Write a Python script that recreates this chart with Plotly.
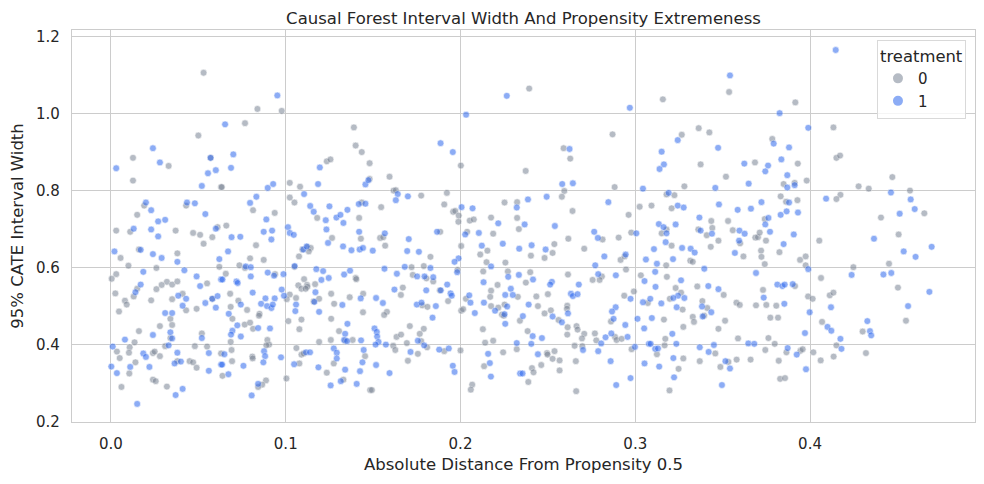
import plotly.graph_objects as go

# (absolute distance from propensity 0.5, 95% CATE interval width)
control_points = [
(0.053,1.107),(0.050,0.944),(0.0126,0.886),(0.033,0.865),(0.057,0.886),(0.0126,0.827),(0.063,0.810),(0.019,0.762),(0.015,0.738),(0.043,0.762),
(0.003,0.697),(0.011,0.694),(0.037,0.697),(0.047,0.691),(0.051,0.686),(0.061,0.706),(0.058,0.680),(0.053,0.663),(0.016,0.648),(0.0055,0.626),(0.038,0.638),(0.010,0.606),(0.026,0.600),(0.062,0.603),(0.003,0.584),(0.0004,0.572),(0.032,0.564),(0.029,0.556),(0.035,0.557),(0.038,0.565),(0.015,0.546),(0.013,0.526),(0.0025,0.534),(0.055,0.560),(0.026,0.545),(0.008,0.515),(0.009,0.505),(0.023,0.516),(0.035,0.519),(0.041,0.533),(0.043,0.490),(0.049,0.494),(0.058,0.520),(0.0046,0.487),(0.034,0.468),(0.035,0.452),(0.028,0.449),(0.016,0.436),(0.034,0.418),(0.052,0.430),(0.0135,0.407),(0.0034,0.383),(0.0107,0.394),(0.0103,0.380),(0.005,0.366),(0.031,0.397),(0.024,0.379),(0.025,0.383),(0.028,0.371),(0.048,0.397),(0.055,0.396),(0.063,0.378),(0.014,0.355),(0.0105,0.326),(0.038,0.358),(0.045,0.358),(0.047,0.355),(0.049,0.341),(0.024,0.310),(0.0256,0.306),(0.032,0.292),(0.006,0.291),
(0.0838,1.013),(0.0977,1.008),(0.0767,0.976),(0.139,0.965),(0.140,0.918),(0.1435,0.901),(0.1235,0.877),(0.1256,0.882),(0.148,0.872),(0.0634,0.810),(0.1023,0.821),(0.1082,0.811),(0.148,0.831),(0.0813,0.750),(0.1023,0.783),(0.105,0.770),(0.118,0.730),(0.142,0.730),(0.1435,0.770),(0.0937,0.743),
(0.066,0.710),(0.083,0.659),(0.1265,0.678),(0.143,0.676),(0.1095,0.648),(0.1124,0.654),(0.1143,0.652),(0.1132,0.643),(0.1076,0.630),(0.0874,0.621),(0.0796,0.625),(0.0735,0.607),(0.0767,0.600),(0.0657,0.585),(0.0939,0.584),(0.105,0.603),(0.1105,0.571),(0.1072,0.555),(0.109,0.546),(0.1122,0.556),(0.1124,0.551),(0.1114,0.546),(0.1168,0.558),(0.140,0.574),(0.1404,0.571),(0.0682,0.533),(0.1023,0.531),(0.1006,0.519),(0.0729,0.515),(0.0685,0.499),(0.0695,0.468),(0.0779,0.491),(0.085,0.481),(0.0847,0.476),(0.1059,0.522),(0.116,0.513),(0.1191,0.520),(0.126,0.533),(0.1277,0.507),(0.1366,0.524),(0.1443,0.533),(0.1442,0.485),(0.1015,0.462),(0.109,0.466),(0.1078,0.441),(0.126,0.468),(0.1305,0.436),(0.1341,0.411),(0.1383,0.413),(0.1258,0.413),(0.1191,0.408),(0.0765,0.453),(0.0796,0.458),(0.0813,0.442),(0.0685,0.408),(0.0895,0.413),(0.0905,0.401),(0.0889,0.399),(0.069,0.387),(0.0809,0.370),(0.0811,0.365),(0.0693,0.358),(0.1061,0.392),(0.109,0.375),(0.1103,0.378),(0.1078,0.352),(0.1235,0.328),(0.1275,0.352),(0.1454,0.371),(0.133,0.310),(0.1483,0.283),(0.0638,0.320),(0.1004,0.313),(0.0887,0.308),(0.0865,0.297),(0.0842,0.291),
(0.2002,0.866),(0.1594,0.837),(0.1617,0.801),(0.163,0.802),(0.1775,0.788),(0.1546,0.758),(0.1922,0.795),(0.1907,0.765),(0.1958,0.746),(0.197,0.748),(0.199,0.736),(0.1988,0.720),(0.2053,0.723),(0.2076,0.726),(0.2175,0.731),(0.2252,0.770),(0.2324,0.771),(0.2324,0.730),
(0.154,0.678),(0.1558,0.680),(0.1569,0.658),(0.1884,0.694),(0.1828,0.629),(0.2004,0.657),(0.1983,0.595),(0.172,0.602),(0.179,0.605),(0.1727,0.582),(0.1805,0.573),(0.1844,0.565),(0.1882,0.542),(0.1670,0.549),(0.1659,0.530),(0.1929,0.514),(0.1781,0.503),(0.1811,0.499),(0.1579,0.486),(0.1563,0.478),(0.1634,0.421),(0.166,0.427),(0.171,0.449),(0.179,0.442),(0.1767,0.429),(0.1693,0.405),(0.1775,0.410),(0.1809,0.394),(0.1615,0.398),(0.1627,0.387),(0.1699,0.359),(0.1756,0.377),(0.1907,0.384),(0.2,0.386),(0.1493,0.283),(0.2067,0.297),(0.2059,0.284),
(0.2038,0.694),(0.2187,0.689),(0.2334,0.701),(0.2154,0.645),(0.2113,0.635),(0.2149,0.615),(0.2257,0.614),(0.213,0.591),(0.2271,0.591),(0.2212,0.556),(0.2175,0.541),(0.2328,0.525),(0.217,0.525),(0.2031,0.520),(0.2175,0.501),(0.2216,0.497),(0.2252,0.505),(0.2237,0.479),(0.2248,0.476),(0.2004,0.489),(0.2015,0.493),(0.234,0.463),(0.2128,0.441),(0.2141,0.406),(0.2187,0.411),(0.2322,0.389),(0.2244,0.381),(0.2135,0.345),
(0.2393,1.066),(0.3158,1.038),(0.287,0.947),(0.259,0.911),(0.2628,0.884),(0.2373,0.852),(0.2594,0.800),(0.258,0.785),(0.2882,0.810),(0.3179,0.791),(0.2641,0.748),(0.2962,0.738),(0.3025,0.759),(0.3093,0.762),
(0.2813,0.674),(0.2905,0.679),(0.2977,0.692),(0.2617,0.676),(0.2537,0.662),(0.2403,0.632),(0.2481,0.626),(0.2527,0.639),(0.2708,0.650),(0.2916,0.621),(0.2939,0.630),(0.2947,0.596),(0.2809,0.578),(0.2796,0.569),(0.2756,0.569),(0.2615,0.583),(0.2399,0.589),(0.2374,0.562),(0.25,0.532),(0.2434,0.526),(0.2611,0.502),(0.2609,0.494),(0.2443,0.501),(0.2517,0.490),(0.2481,0.482),(0.2561,0.465),(0.2613,0.446),(0.2664,0.449),(0.267,0.440),(0.2384,0.436),(0.2611,0.427),(0.2708,0.429),(0.2695,0.417),(0.2769,0.430),(0.2777,0.412),(0.2653,0.398),(0.2697,0.397),(0.2884,0.421),(0.2893,0.413),(0.2922,0.416),(0.2861,0.461),(0.2937,0.528),(0.2992,0.539),(0.2979,0.389),(0.2495,0.379),(0.2498,0.375),(0.2538,0.384),(0.2527,0.364),(0.2567,0.360),(0.2462,0.348),(0.2409,0.340),(0.2418,0.329),(0.2567,0.334),(0.2388,0.304),(0.266,0.358),(0.2662,0.280),
(0.3179,0.700),(0.3151,0.690),(0.3177,0.607),(0.3032,0.581),(0.3181,0.577),(0.3072,0.509),(0.3164,0.466),(0.3124,0.376),(0.3168,0.399),(0.3172,0.416),(0.3198,0.520),(0.3196,0.282),
(0.3537,1.057),(0.3916,1.030),(0.3363,0.963),(0.3424,0.952),(0.3266,0.946),(0.3784,0.935),(0.3374,0.869),(0.3685,0.874),(0.393,0.871),(0.3519,0.837),(0.3281,0.812),(0.3849,0.818),(0.3912,0.821),(0.3981,0.827),(0.3224,0.789),(0.3208,0.755),(0.3832,0.786),(0.3863,0.772),(0.3928,0.776),(0.3435,0.722),(0.3531,0.722),(0.3741,0.727),
(0.3361,0.700),(0.3409,0.685),(0.3441,0.704),(0.3476,0.671),(0.3558,0.698),(0.36,0.664),(0.3687,0.679),(0.3702,0.680),(0.3712,0.692),(0.3748,0.671),(0.4053,0.671),(0.3825,0.641),(0.372,0.645),(0.3722,0.629),(0.3741,0.610),(0.3943,0.621),(0.3975,0.630),(0.3975,0.607),(0.3208,0.658),(0.3315,0.619),(0.3329,0.616),(0.3432,0.655),(0.3619,0.630),(0.3231,0.548),(0.3262,0.536),(0.3271,0.492),(0.3355,0.552),(0.3506,0.530),(0.3384,0.514),(0.3412,0.496),(0.3394,0.476),(0.3329,0.473),(0.3336,0.460),(0.3275,0.447),(0.3514,0.463),(0.3476,0.442),(0.3579,0.510),(0.3598,0.504),(0.3691,0.503),(0.3731,0.543),(0.375,0.504),(0.3807,0.502),(0.3773,0.471),(0.3817,0.471),(0.3914,0.553),(0.3989,0.526),(0.4015,0.520),(0.3588,0.417),(0.3762,0.418),(0.3798,0.403),(0.3458,0.378),(0.3744,0.387),(0.3865,0.381),(0.3945,0.385),(0.3958,0.389),(0.4019,0.381),(0.3275,0.365),(0.3248,0.338),(0.3369,0.358),(0.3533,0.356),(0.3487,0.343),(0.358,0.362),(0.366,0.362),(0.3821,0.359),(0.3829,0.312),(0.3857,0.314),
(0.4134,0.965),(0.4151,0.886),(0.4172,0.892),(0.4471,0.836),(0.4278,0.812),(0.4336,0.806),(0.4572,0.801),(0.4174,0.790),(0.4151,0.779),(0.4654,0.742),(0.4406,0.731),
(0.4507,0.687),(0.4452,0.611),(0.4248,0.602),(0.4063,0.574),(0.4503,0.549),(0.4113,0.529),(0.4134,0.536),(0.4549,0.463),(0.4069,0.460),(0.4301,0.435),(0.4151,0.399),(0.4135,0.370),(0.4061,0.360),(0.4320,0.379),
]

treated_points = [
(0.024,0.911),(0.028,0.874),(0.057,0.886),(0.003,0.859),(0.0555,0.846),(0.060,0.854),(0.052,0.813),(0.020,0.770),(0.023,0.750),(0.0435,0.770),(0.048,0.768),(0.054,0.740),(0.027,0.721),(0.031,0.725),
(0.013,0.702),(0.023,0.700),(0.027,0.682),(0.060,0.702),(0.002,0.643),(0.017,0.647),(0.024,0.636),(0.029,0.626),(0.038,0.616),(0.062,0.623),(0.0185,0.590),(0.042,0.594),(0.049,0.578),(0.063,0.570),(0.017,0.557),(0.014,0.537),(0.051,0.553),(0.0385,0.528),(0.043,0.520),(0.041,0.502),(0.054,0.509),(0.058,0.520),(0.061,0.527),(0.060,0.497),(0.031,0.483),(0.035,0.483),(0.024,0.426),(0.034,0.433),(0.035,0.417),(0.052,0.418),(0.008,0.414),(0.001,0.396),(0.033,0.399),(0.0185,0.378),(0.020,0.369),(0.038,0.380),(0.056,0.379),(0.0002,0.344),(0.0034,0.327),(0.011,0.343),(0.022,0.343),(0.0364,0.352),(0.040,0.357),(0.056,0.333),(0.063,0.349),(0.041,0.286),(0.037,0.270),(0.015,0.247),
(0.0952,1.048),(0.0653,0.973),(0.070,0.895),(0.0687,0.860),(0.1195,0.861),(0.0897,0.808),(0.0928,0.818),(0.1185,0.818),(0.1456,0.817),(0.1473,0.828),(0.0832,0.785),(0.0796,0.769),(0.1105,0.792),(0.114,0.761),(0.116,0.746),(0.125,0.760),(0.1229,0.724),(0.129,0.731),(0.1313,0.738),(0.1353,0.751),(0.133,0.717),(0.1418,0.766),(0.1456,0.767),(0.0889,0.726),
(0.1013,0.706),(0.0874,0.694),(0.0922,0.697),(0.0918,0.674),(0.069,0.680),(0.074,0.681),(0.1023,0.691),(0.1046,0.686),(0.067,0.643),(0.1233,0.700),(0.1242,0.665),(0.1328,0.656),(0.142,0.694),(0.1376,0.646),(0.1423,0.648),(0.1442,0.652),(0.1101,0.648),(0.112,0.656),(0.0771,0.604),(0.080,0.602),(0.0638,0.570),(0.080,0.578),(0.0897,0.588),(0.0933,0.580),(0.0987,0.584),(0.0718,0.565),(0.0725,0.561),(0.1051,0.605),(0.1175,0.597),(0.1214,0.592),(0.1204,0.569),(0.1246,0.574),(0.117,0.537),(0.1334,0.583),(0.1368,0.593),(0.0811,0.536),(0.0977,0.544),(0.099,0.528),(0.0884,0.521),(0.0937,0.521),(0.0743,0.505),(0.0859,0.507),(0.0893,0.501),(0.0918,0.496),(0.0926,0.505),(0.0674,0.481),(0.1059,0.505),(0.1055,0.488),(0.1164,0.512),(0.1191,0.486),(0.1324,0.504),(0.1429,0.521),(0.1353,0.455),(0.134,0.429),(0.1334,0.413),(0.1351,0.410),(0.1431,0.412),(0.0723,0.451),(0.0842,0.444),(0.091,0.443),(0.0695,0.437),(0.0687,0.427),(0.0743,0.422),(0.0649,0.376),(0.0876,0.384),(0.0882,0.371),(0.0636,0.349),(0.0758,0.346),(0.0872,0.355),(0.0973,0.368),(0.1116,0.381),(0.1139,0.381),(0.1048,0.350),(0.1187,0.342),(0.1275,0.391),(0.1292,0.380),(0.1292,0.365),(0.134,0.336),(0.1446,0.387),(0.1439,0.355),(0.1425,0.332),(0.1315,0.306),(0.1406,0.299),(0.1257,0.295),(0.0672,0.324),(0.0842,0.299),(0.0805,0.269),
(0.2265,1.047),(0.2032,0.998),(0.1886,0.924),(0.1956,0.901),(0.1641,0.792),(0.163,0.776),(0.1699,0.786),(0.2006,0.758),(0.2069,0.755),(0.2216,0.716),(0.2322,0.757),
(0.1567,0.690),(0.1498,0.645),(0.1704,0.675),(0.1866,0.694),(0.1695,0.644),(0.1762,0.642),(0.1989,0.625),(0.1966,0.616),(0.1981,0.589),(0.1565,0.598),(0.1681,0.603),(0.1828,0.600),(0.1636,0.585),(0.1752,0.578),(0.1794,0.578),(0.1844,0.576),(0.1924,0.557),(0.1887,0.542),(0.1622,0.544),(0.1804,0.542),(0.1517,0.522),(0.1556,0.509),(0.1943,0.534),(0.195,0.528),(0.175,0.505),(0.1777,0.510),(0.1859,0.501),(0.184,0.471),(0.1508,0.443),(0.1521,0.434),(0.1523,0.422),(0.1531,0.408),(0.1514,0.401),(0.1573,0.401),(0.1756,0.411),(0.1792,0.399),(0.1714,0.382),(0.1878,0.388),(0.1933,0.391),(0.1517,0.348),(0.1594,0.327),(0.1956,0.346),(0.1966,0.330),
(0.2027,0.687),(0.2105,0.691),(0.2242,0.663),(0.2122,0.658),(0.2336,0.650),(0.2175,0.604),(0.2273,0.577),(0.2334,0.582),(0.2132,0.563),(0.2288,0.546),(0.2256,0.530),(0.2299,0.530),(0.205,0.529),(0.2057,0.510),(0.2134,0.510),(0.2198,0.489),(0.2267,0.500),(0.2252,0.480),(0.2256,0.455),(0.2082,0.483),(0.2322,0.405),(0.2158,0.377),(0.2168,0.353),(0.2174,0.318),(0.2341,0.326),
(0.2969,1.016),(0.2624,0.909),(0.2582,0.818),(0.2643,0.820),(0.3044,0.806),(0.3151,0.902),(0.3164,0.869),(0.3139,0.857),(0.3191,0.795),(0.2386,0.778),(0.2493,0.785),(0.2846,0.771),(0.2367,0.713),(0.3135,0.714),
(0.254,0.709),(0.2765,0.694),(0.2786,0.678),(0.3006,0.690),(0.2407,0.659),(0.2487,0.648),(0.2823,0.630),(0.2945,0.635),(0.2771,0.607),(0.2788,0.584),(0.2889,0.581),(0.2415,0.570),(0.2523,0.564),(0.2513,0.557),(0.2677,0.557),(0.2632,0.533),(0.2643,0.527),(0.267,0.532),(0.2615,0.482),(0.239,0.505),(0.2527,0.474),(0.258,0.459),(0.2357,0.475),(0.2413,0.423),(0.2466,0.418),(0.2405,0.403),(0.283,0.420),(0.2805,0.404),(0.2701,0.387),(0.2788,0.384),(0.2863,0.430),(0.2876,0.468),(0.2888,0.498),(0.2867,0.487),(0.2943,0.452),(0.2956,0.421),(0.2973,0.520),(0.2998,0.395),(0.2443,0.376),(0.2355,0.326),(0.2859,0.358),(0.2973,0.314),(0.2891,0.296),
(0.3162,0.706),(0.3179,0.690),(0.3174,0.667),(0.3107,0.649),(0.3061,0.622),(0.3124,0.611),(0.3114,0.590),(0.3053,0.566),(0.3116,0.551),(0.3044,0.511),(0.3086,0.520),(0.3149,0.508),(0.3013,0.468),(0.3095,0.470),(0.3051,0.443),(0.3078,0.403),(0.3088,0.403),(0.3114,0.390),(0.313,0.391),(0.3053,0.352),(0.3137,0.344),
(0.3542,1.100),(0.3826,1.002),(0.399,0.964),(0.3243,0.932),(0.3474,0.912),(0.3792,0.923),(0.388,0.913),(0.3836,0.882),(0.3624,0.871),(0.376,0.866),(0.3744,0.851),(0.387,0.841),(0.3649,0.819),(0.3458,0.808),(0.387,0.809),(0.3912,0.815),(0.3243,0.762),(0.3277,0.757),(0.3479,0.765),(0.3586,0.751),(0.3662,0.754),(0.3722,0.771),(0.388,0.770),(0.3832,0.738),(0.3866,0.747),(0.3931,0.744),(0.3231,0.713),(0.3367,0.731),(0.3762,0.730),(0.3744,0.713),
(0.3374,0.697),(0.3439,0.689),(0.3596,0.697),(0.3626,0.689),(0.3594,0.671),(0.3771,0.694),(0.3907,0.687),(0.3849,0.662),(0.399,0.597),(0.3268,0.652),(0.3317,0.650),(0.334,0.640),(0.3216,0.623),(0.357,0.639),(0.3395,0.598),(0.3691,0.587),(0.3262,0.568),(0.3245,0.528),(0.3218,0.522),(0.3281,0.522),(0.3237,0.498),(0.3418,0.553),(0.3476,0.545),(0.3382,0.500),(0.3435,0.485),(0.3386,0.474),(0.3735,0.523),(0.3853,0.507),(0.3813,0.557),(0.3842,0.553),(0.3855,0.557),(0.3901,0.558),(0.3998,0.485),(0.3971,0.431),(0.3212,0.429),(0.3235,0.403),(0.3647,0.404),(0.3681,0.403),(0.3369,0.394),(0.345,0.400),(0.342,0.382),(0.3872,0.392),(0.3924,0.375),(0.3218,0.366),(0.3222,0.316),(0.3516,0.358),(0.3542,0.339),(0.3977,0.337),(0.3496,0.296),
(0.4147,1.166),(0.4463,0.796),(0.4576,0.778),(0.4092,0.780),(0.4513,0.741),(0.4599,0.753),
(0.4366,0.676),(0.4536,0.643),(0.4604,0.629),(0.4696,0.655),(0.4238,0.582),(0.4420,0.583),(0.4465,0.587),(0.4683,0.538),(0.4120,0.498),(0.4561,0.501),(0.41,0.447),(0.4122,0.437),(0.4328,0.462),(0.4343,0.436),(0.435,0.425),(0.4174,0.416),(0.418,0.390),
]

x_ticks = [0.0, 0.1, 0.2, 0.3, 0.4]
y_ticks = [0.2, 0.4, 0.6, 0.8, 1.0, 1.2]

FONT = "DejaVu Sans"
TXT = "#262626"
GRID = "#cccccc"

fig = go.Figure()
for name, pts, col in [("0", control_points, "rgb(122,132,148)"),
                       ("1", treated_points, "rgb(47,105,238)")]:
    xs = [p[0] for p in pts]
    ys = [p[1] for p in pts]
    fig.add_trace(go.Scatter(
        x=xs, y=ys, mode="markers", name=name,
        marker=dict(size=6.8, color=col, opacity=0.55,
                    line=dict(width=0.6, color="white")),
    ))

fig.update_layout(
    width=984, height=484,
    margin=dict(l=64, r=17, t=22, b=70, autoexpand=False),
    paper_bgcolor="white", plot_bgcolor="white",
    font=dict(family=FONT, color=TXT, size=15),
    title=dict(text="Causal Forest Interval Width And Propensity Extremeness",
               x=0.5, xanchor="center", xref="paper", y=0.979, yanchor="middle",
               font=dict(size=16.5, family=FONT, color=TXT)),
    legend=dict(title=dict(text="treatment", side="top center", font=dict(size=16.4)),
                x=0.990, xanchor="right", y=0.975, yanchor="top",
                bgcolor="rgba(255,255,255,0.8)", bordercolor="#d9d9d9", borderwidth=1,
                font=dict(size=15), itemsizing="constant"),
    showlegend=True,
)
fig.update_xaxes(range=[-0.0223, 0.4944], tickvals=x_ticks, tickformat=".1f",
                 showgrid=True, gridcolor=GRID, gridwidth=1, zeroline=False, automargin=False,
                 showline=True, linecolor=GRID, linewidth=1.2, mirror=True, ticks="",
                 ticklabelstandoff=8,
                 title=dict(text="Absolute Distance From Propensity 0.5", font=dict(size=16.5), standoff=6),
                 tickfont=dict(size=15))
fig.update_yaxes(range=[0.2, 1.218], tickvals=y_ticks, tickformat=".1f",
                 showgrid=True, gridcolor=GRID, gridwidth=1, zeroline=False, automargin=False,
                 showline=True, linecolor=GRID, linewidth=1.2, mirror=True, ticks="",
                 ticklabelstandoff=8,
                 title=dict(text="95% CATE Interval Width", font=dict(size=16.5), standoff=8),
                 tickfont=dict(size=15))

fig.write_html("out.html")
